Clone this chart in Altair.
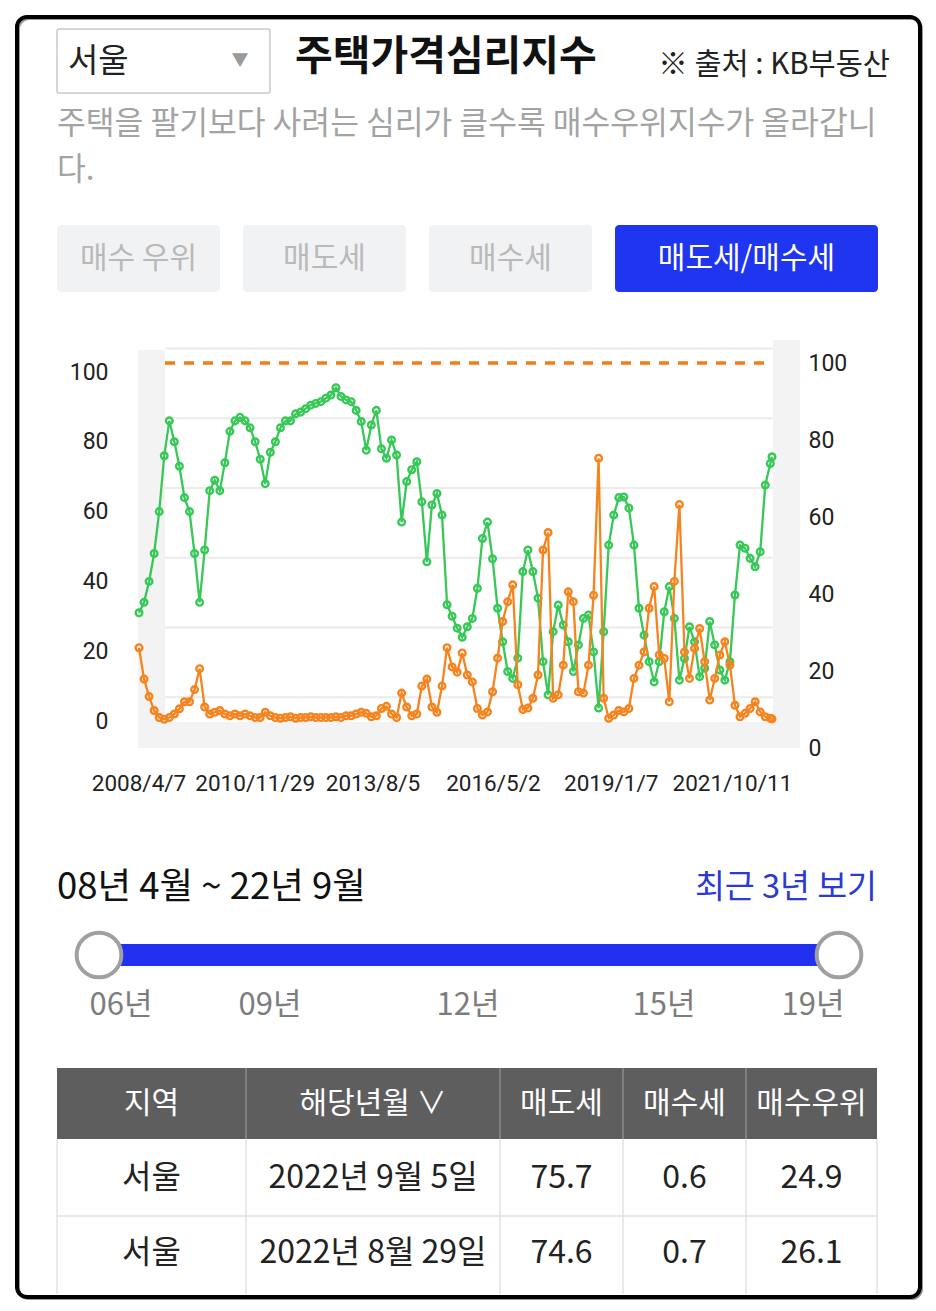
import altair as alt
import pandas as pd

# ---------------- data ----------------
start_date = "2008-04-07"
end_date = "2022-09-05"
sample_dates = list(pd.date_range(start_date, periods=126, freq="42D").strftime("%Y-%m-%d")) + [end_date]

# 매도세 (green)
sell_pressure = [
    31, 34, 40, 48, 60, 76, 86, 80, 73, 64,
    60, 48, 34, 49, 66, 69, 66, 74, 83, 86,
    87, 86, 84, 80, 75, 68, 77, 80, 84, 86,
    86, 88, 88.5, 89.5, 90.5, 91, 91.5, 92.5, 93.4, 95.5,
    93, 92, 91.5, 89, 85.8, 77.6, 84.8, 89, 78, 75.3,
    80.5, 76.2, 57, 68.6, 72, 74.3, 62.8, 45.6, 61.9, 65.2,
    59, 33.3, 30, 26.6, 24, 27, 29.4, 38, 52.3, 57,
    46.5, 32.3, 22.7, 14.2, 12.2, 18, 42.8, 49, 42.8, 35.2,
    17, 7.5, 25.6, 33.2, 27.5, 22.7, 14.2, 21.8, 29.4, 30.4,
    19.8, 3.7, 25.6, 50.4, 59, 64, 64.2, 61, 50.4, 32.3,
    24.6, 17, 11.2, 17, 31.3, 38.5, 29.4, 11.7, 17.9, 27,
    22.7, 12.7, 15.1, 28.5, 21.8, 14.6, 11.7, 17, 36.1, 50.4,
    49.5, 46.6, 44.2, 48.5, 67.6, 73.8,
    75.7,
]

# 매수세 (orange)
buy_pressure = [
    21, 12, 7, 3, 1, 0.5, 1, 2, 3.5, 5.5,
    5.5, 9, 15, 4, 2, 2.5, 3, 2, 1.5, 2,
    1.5, 2, 1.5, 1, 1, 2.5, 1.5, 1, 0.8, 1,
    1.2, 0.8, 1, 1, 1.2, 1, 1, 1, 1, 1.2,
    1, 1.5, 1.5, 2, 2.5, 2.2, 1.2, 1.5, 3.6, 4.2,
    2, 1, 8, 4, 1.5, 2, 10, 12, 4, 2.5,
    10, 21, 15.5, 14, 19.5, 13.2, 11.2, 3.6, 1.7, 2.6,
    8.4, 18, 28.5, 34.2, 39, 10.4, 3.3, 3.7, 6.5, 13.2,
    49, 54, 6.5, 7.5, 16, 37, 34.2, 8.4, 8, 16,
    36, 75.3, 6.5, 0.8, 1.7, 3, 2.6, 3.6, 12.2, 16,
    19.8, 32.3, 38.5, 18.9, 17.9, 5.5, 40, 62, 19.8, 12.2,
    20.8, 26.5, 17, 6, 12.2, 18.9, 22.7, 16, 4.5, 1.2,
    2.2, 3.6, 5.5, 2.6, 1.2, 0.8,
    0.6,
]

x_tick_dates = ["2008-04-07", "2010-11-29", "2013-08-05", "2016-05-02", "2019-01-07", "2021-10-11"]
x_tick_labels = ["2008/4/7", "2010/11/29", "2013/8/5", "2016/5/2", "2019/1/7", "2021/10/11"]
left_ticks = [0, 20, 40, 60, 80, 100]
right_ticks = [0, 20, 40, 60, 80, 100]
reference_level = [100]
wall_grid = [0, 20, 40, 60, 80, 100]

region_name = "서울"
title_text = "주택가격심리지수"
source_text = "※ 출처 : KB부동산"
desc_line1 = "주택을 팔기보다 사려는 심리가 클수록 매수우위지수가 올라갑니"
desc_line2 = "다."
buttons = ["매수 우위", "매도세", "매수세", "매도세/매수세"]
period_text = "08년 4월 ~ 22년 9월"
recent_text = "최근 3년 보기"
slider_years = ["06년", "09년", "12년", "15년", "19년"]
table_header = ["지역", "해당년월 ∨", "매도세", "매수세", "매수우위"]
table_region = ["서울", "서울"]
table_date = ["2022년 9월 5일", "2022년 8월 29일"]
table_sell = [75.7, 74.6]
table_buy = [0.6, 0.7]
table_adv = [24.9, 26.1]

# ---------------- layout ----------------
W, H = 920, 1295
M = 8  # page margin
KR = "Noto Sans CJK KR"
NUM = "Roboto"
GREEN = "#38c858"
ORANGE = "#f5841f"
BLUE = "#1f35f0"
ONE = pd.DataFrame({"k": [0]})


def ms(d):
    return int(pd.Timestamp(d).value // 10**6)


# x: data from page x 139 (start) to 772 (end)
x0_px, x1_px = 139 - M, 772 - M
ppx = (ms(end_date) - ms(start_date)) / (x1_px - x0_px)
xscale = alt.Scale(type="utc", domain=[ms(start_date) - x0_px * ppx, ms(end_date) + (W - x1_px) * ppx])


def yscale(zero_page_y, px_per_unit):
    z = zero_page_y - M
    return alt.Scale(domain=[(z - H) / px_per_unit, z / px_per_unit], nice=False, zero=False)


ys_left = yscale(721, 3.49)
ys_right = yscale(748, 3.85)
ys_wall = yscale(697.3, 3.4875)


def text(s, x, y, size, color="#222", weight="normal", align="left", font=KR):
    return alt.Chart(ONE).mark_text(
        text=s, align=align, baseline="middle", fontSize=size, color=color,
        fontWeight=weight, font=font
    ).encode(x=alt.value(x - M), y=alt.value(y - M))


def box(x1, y1, x2, y2, fill="white", stroke=None, sw=0, r=0, fo=1):
    kw = dict(fill=fill, cornerRadius=r, fillOpacity=fo)
    if stroke:
        kw.update(stroke=stroke, strokeWidth=sw)
    return alt.Chart(ONE).mark_rect(**kw).encode(
        x=alt.value(x1 - M), x2=alt.value(x2 - M), y=alt.value(y1 - M), y2=alt.value(y2 - M))


def vline(x, y1, y2, color, sw=1.5):
    return alt.Chart(ONE).mark_rule(color=color, strokeWidth=sw).encode(
        x=alt.value(x - M), y=alt.value(y1 - M), y2=alt.value(y2 - M))


def hline(x1, x2, y, color, sw=1.5):
    return alt.Chart(ONE).mark_rule(color=color, strokeWidth=sw).encode(
        x=alt.value(x1 - M), x2=alt.value(x2 - M), y=alt.value(y - M))


layers = []

# ---- header ----
layers.append(box(57, 29, 270, 93, fill="white", stroke="#c9c9c9", sw=1.5, r=2))
layers.append(text(region_name, 68, 62, 33, "#222"))
layers.append(text("▼", 240, 61, 17, "#9a9a9a", align="center"))
layers.append(text(title_text, 295, 58, 41, "#111", weight="bold"))
layers.append(text(source_text, 890, 65, 29.5, "#222", align="right"))
layers.append(text(desc_line1, 57, 125, 31.3, "#a3a3a3"))
layers.append(text(desc_line2, 57, 171, 31.3, "#a3a3a3"))

btn_x = [(57, 220), (243, 406), (429, 592), (615, 878)]
for i, (b, (a, c)) in enumerate(zip(buttons, btn_x)):
    active = i == 3
    layers.append(box(a, 225, c, 292, fill=BLUE if active else "#f1f2f4", r=4))
    layers.append(text(b, (a + c) / 2, 259, 30, "white" if active else "#b9b9b9", align="center"))

# ---- chart decoration (3D box) ----
layers.append(box(138, 350, 165, 748, fill="#f3f3f3"))
layers.append(box(138, 722, 800, 748, fill="#f3f3f3"))
layers.append(box(773, 340, 800, 748, fill="#f3f3f3"))

wall_df = pd.DataFrame({"g": wall_grid})
layers.append(alt.Chart(wall_df).mark_rule(color="#ebebeb", strokeWidth=2).encode(
    x=alt.value(165 - M), x2=alt.value(773 - M),
    y=alt.Y("g:Q", scale=ys_wall, axis=None)))

right_axis = alt.Axis(orient="right", offset=-(W - (808 - M)), values=right_ticks, labelPadding=0,
                      tickSize=0, ticks=False, domain=False, grid=False, labelFontSize=23,
                      labelFont=NUM, labelColor="#222", title=None, labelAlign="left",
                      labelFlush=False, labelOverlap=False)
ref_df = pd.DataFrame({"ref": reference_level})
layers.append(alt.Chart(ref_df).mark_rule(color="#f07c1a", strokeWidth=3.5, strokeDash=[10, 9]).encode(
    x=alt.value(165 - M), x2=alt.value(773 - M),
    y=alt.Y("ref:Q", scale=ys_right, axis=right_axis)))

left_axis = alt.Axis(orient="left", offset=-(108 - M), values=left_ticks, labelPadding=0,
                     tickSize=0, ticks=False, domain=False, grid=False, labelFontSize=23,
                     labelFont=NUM, labelColor="#222", title=None, labelAlign="right",
                     labelFlush=False, labelOverlap=False)

sell_df = pd.DataFrame({"date": sample_dates, "v": sell_pressure})
buy_df = pd.DataFrame({"date": sample_dates, "v": buy_pressure})
tick_df = pd.DataFrame({"date": x_tick_dates, "label": x_tick_labels})

# x-axis tick labels, placed through the same time scale
layers.append(alt.Chart(tick_df).mark_text(fontSize=22.5, font=NUM, color="#222", baseline="middle").encode(
    x=alt.X("date:T", scale=xscale, axis=None),
    y=alt.value(784 - M),
    text="label:N"))

layers.append(alt.Chart(sell_df).mark_line(color=GREEN, strokeWidth=2.3).encode(
    x=alt.X("date:T", scale=xscale, axis=None),
    y=alt.Y("v:Q", scale=ys_left, axis=left_axis)))
layers.append(alt.Chart(sell_df).mark_point(color=GREEN, size=44, strokeWidth=2.4, filled=False, opacity=1).encode(
    x=alt.X("date:T", scale=xscale, axis=None),
    y=alt.Y("v:Q", scale=ys_left, axis=None)))
layers.append(alt.Chart(buy_df).mark_line(color=ORANGE, strokeWidth=2.3).encode(
    x=alt.X("date:T", scale=xscale, axis=None),
    y=alt.Y("v:Q", scale=ys_left, axis=None)))
layers.append(alt.Chart(buy_df).mark_point(color=ORANGE, size=44, strokeWidth=2.4, filled=False, opacity=1).encode(
    x=alt.X("date:T", scale=xscale, axis=None),
    y=alt.Y("v:Q", scale=ys_left, axis=None)))

# ---- period + slider ----
layers.append(text(period_text, 57, 888, 36.5, "#111"))
layers.append(text(recent_text, 877, 888, 32.5, "#2a3ad2", align="right"))
layers.append(box(99, 944, 839, 966, fill="#2230f2"))
for cx in (99, 839):
    layers.append(alt.Chart(ONE).mark_circle(size=2000, color="white", opacity=1,
                                             stroke="#a0a0a0", strokeWidth=4).encode(
        x=alt.value(cx - M), y=alt.value(955 - M)))
for lab, cx in zip(slider_years, [121, 270, 468, 664, 813]):
    layers.append(text(lab, cx, 1006, 31, "#7d7d7d", align="center"))

# ---- table ----
col_edges = [57, 246, 500, 623, 746, 877]
col_centers = [(a + b) / 2 for a, b in zip(col_edges[:-1], col_edges[1:])]
layers.append(box(57, 1068, 877, 1139, fill="#5e5e5e"))
for xe in col_edges[1:-1]:
    layers.append(vline(xe, 1068, 1139, "#8d8d8d", 1.5))
for xe in col_edges:
    layers.append(vline(xe, 1139, 1294, "#e2e2e2", 1.5))
layers.append(hline(57, 877, 1216, "#e2e2e2", 1.5))
for h, cx in zip(table_header, col_centers):
    layers.append(text(h, cx, 1104, 30, "white", align="center"))
row_y = [1178, 1253]
for r in range(2):
    cells = [table_region[r], table_date[r], f"{table_sell[r]:.1f}", f"{table_buy[r]:.1f}", f"{table_adv[r]:.1f}"]
    for s, cx in zip(cells, col_centers):
        layers.append(text(s, cx, row_y[r], 32, "#222", align="center"))

# ---- frame ----
layers.append(box(19, 19, 922, 1299, fill="white", stroke="#9a9a9a", sw=2, r=10, fo=0))
layers.append(box(17, 17, 920, 1297, fill="white", stroke="#000000", sw=4, r=10, fo=0))

chart = alt.layer(*layers).properties(
    width=W, height=H, padding=0,
    autosize=alt.AutoSizeParams(type="none"),
    background="white",
).resolve_scale(y="independent").configure_view(stroke=None)

chart.save("out.html", embed_options={"renderer": "svg", "actions": False})
